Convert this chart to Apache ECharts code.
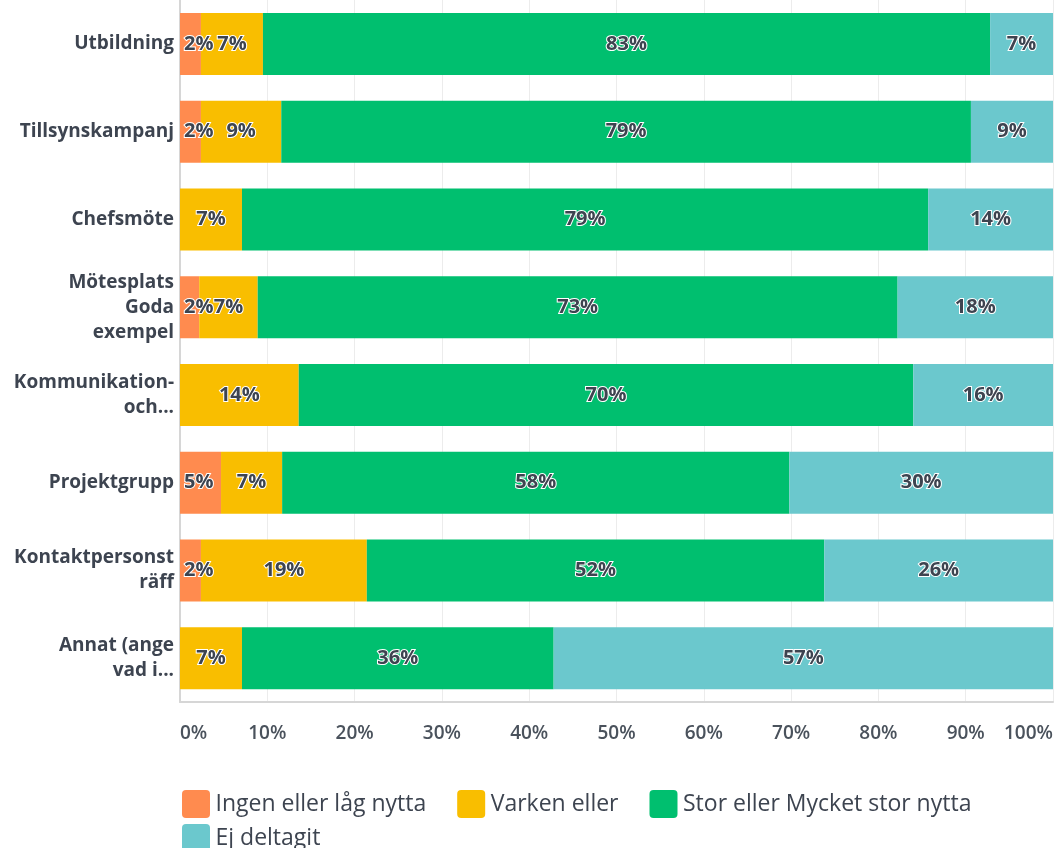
<!DOCTYPE html>
<html><head><meta charset="utf-8">
<script src="https://cdn.jsdelivr.net/npm/echarts@6/dist/echarts.min.js"></script>
<style>html,body{margin:0;padding:0;background:#fff}#c{width:1056px;height:848px}</style>
</head><body><div id="c"></div>
<script>
const categories = ['Utbildning','Tillsynskampanj','Chefsmöte','Mötesplats\nGoda\nexempel','Kommunikation-\noch...','Projektgrupp','Kontaktpersonst\nräff','Annat (ange\nvad i...'];
const seriesNames = ['Ingen eller låg nytta','Varken eller','Stor eller Mycket stor nytta','Ej deltagit'];
const ingen   = [2.4, 2.4, 0,    2.2, 0,    4.7, 2.4, 0];
const varken  = [7.1, 9.2, 7.1,  6.7, 13.6, 7.0, 19.0, 7.1];
const stor    = [83.3,79.0,78.6, 73.3,70.4, 58.1,52.4, 35.7];
const ej      = [7.2, 9.4, 14.3, 17.8,16.0, 30.2,26.2, 57.2];
const xTicks  = ['0%','10%','20%','30%','40%','50%','60%','70%','80%','90%','100%'];
const colors = ['#FF8B4F','#F9BE00','#00BF6F','#6BC8CD'];

const FONT = '"Open Sans"';
const TEXT = '#3d4450';
const labelStyle = {
  show: true, fontFamily: FONT, fontWeight: 'bold', fontSize: 20,
  color: TEXT, textBorderColor: '#ffffff', textBorderWidth: 2,
  formatter: p => p.value > 0 ? Math.round(p.value) + '%' : ''
};
const allData = [ingen, varken, stor, ej];
const series = allData.map((d, i) => ({
  name: seriesNames[i], type: 'bar', stack: 'total', barWidth: 62,
  itemStyle: { color: colors[i] },
  label: i === 0 ? Object.assign({}, labelStyle, {position: 'insideLeft', distance: 4}) : Object.assign({}, labelStyle, {position: 'inside'}),
  labelLayout: { hideOverlap: false },
  data: d
}));

const legendBase = {
  left: 177, itemWidth: 29, itemHeight: 28, itemGap: 31, orient: 'horizontal',
  icon: 'path://M4,0 L24,0 Q28,0 28,4 L28,24 Q28,28 24,28 L4,28 Q0,28 0,24 L0,4 Q0,0 4,0 Z',
  textStyle: { fontFamily: FONT, fontSize: 23, color: TEXT, padding: [0, 0, 0, 0] },
  selectedMode: false
};

const chart = echarts.init(document.getElementById('c'));
chart.setOption({
  animation: false,
  color: colors,
  grid: { left: 180, right: 0, top: 0, bottom: 146, containLabel: false },
  legend: [
    Object.assign({}, legendBase, { top: 785, data: seriesNames.slice(0, 3) }),
    Object.assign({}, legendBase, { top: 819, data: seriesNames.slice(3) })
  ],
  xAxis: {
    type: 'value', min: 0, max: 100, interval: 10,
    axisLine: { show: true, lineStyle: { color: '#d6d6d6', width: 2 } },
    axisTick: { show: false },
    splitLine: { show: true, lineStyle: { color: '#ececec', width: 1 } },
    axisLabel: {
      margin: 22, fontFamily: FONT, fontSize: 19, fontWeight: 600, color: '#4a525c',
      alignMinLabel: 'left', alignMaxLabel: 'right',
      formatter: v => xTicks[Math.round(v / 10)]
    }
  },
  yAxis: {
    type: 'category', inverse: true, data: categories,
    axisLine: { show: true, lineStyle: { color: '#d6d6d6', width: 2 } },
    axisTick: { show: false },
    axisLabel: {
      margin: 6, fontFamily: FONT, fontSize: 19, fontWeight: 'bold', color: TEXT,
      lineHeight: 25, align: 'right'
    }
  },
  series: series
});
</script></body></html>
